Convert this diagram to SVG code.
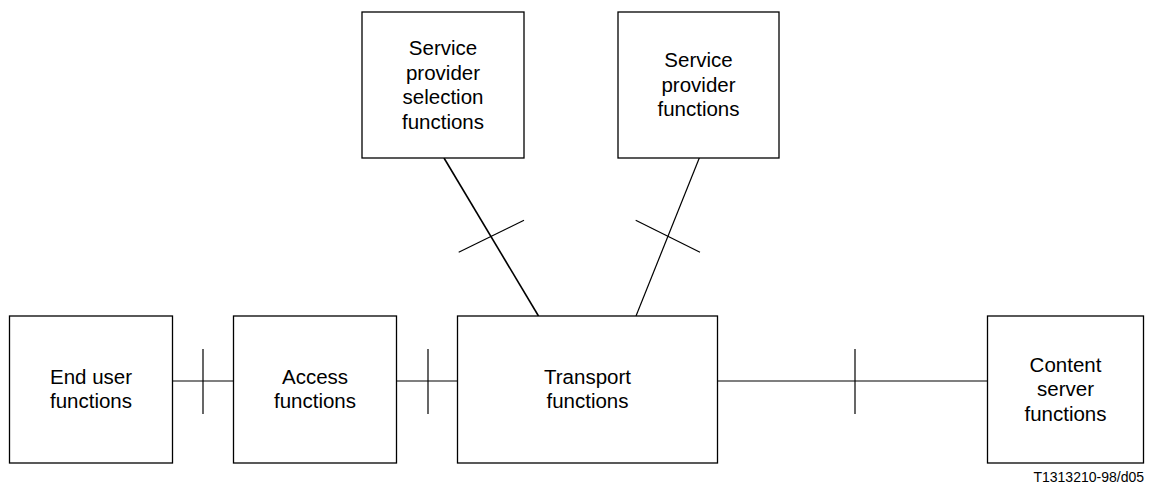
<svg xmlns="http://www.w3.org/2000/svg" width="1155" height="486" viewBox="0 0 1155 486">
<style>
.box{fill:#fff;stroke:#000;stroke-width:1.3}
.ln{stroke:#000;stroke-width:1.2;fill:none}
.t{font-family:"Liberation Sans",Arial,sans-serif;font-size:20.5px;fill:#000;text-anchor:middle}
.f{font-family:"Liberation Sans",Arial,sans-serif;font-size:14px;fill:#000;text-anchor:end}
</style>
<rect width="1155" height="486" fill="#fff"/>
<g id="connectors">
<line class="ln" x1="172" y1="381" x2="233" y2="381"/>
<line class="ln" x1="203" y1="349" x2="203" y2="414"/>
<line class="ln" x1="397" y1="381" x2="457" y2="381"/>
<line class="ln" x1="428" y1="349" x2="428" y2="414"/>
<line class="ln" x1="717" y1="381" x2="987" y2="381"/>
<line class="ln" x1="855" y1="349" x2="855" y2="414"/>
<line class="ln" x1="444" y1="158" x2="538.5" y2="316" style="stroke-width:1.6"/>
<line class="ln" x1="458.7" y1="252.3" x2="524" y2="220.3"/>
<line class="ln" x1="699.3" y1="158" x2="636" y2="316"/>
<line class="ln" x1="635.7" y1="220.3" x2="700" y2="252.3"/>
</g>
<g id="sps">
<rect class="box" x="362" y="12" width="162" height="146"/>
<text class="t" x="443" y="54.8">Service</text>
<text class="t" x="443" y="79.5">provider</text>
<text class="t" x="443" y="104">selection</text>
<text class="t" x="443" y="128.5">functions</text>
</g>
<g id="sp">
<rect class="box" x="618" y="12" width="161" height="146"/>
<text class="t" x="698.5" y="67">Service</text>
<text class="t" x="698.5" y="91.5">provider</text>
<text class="t" x="698.5" y="116">functions</text>
</g>
<g id="enduser">
<rect class="box" x="9.5" y="316" width="163" height="147"/>
<text class="t" x="91" y="383.5">End user</text>
<text class="t" x="91" y="408.3">functions</text>
</g>
<g id="access">
<rect class="box" x="233.5" y="316" width="163" height="147"/>
<text class="t" x="315" y="383.5">Access</text>
<text class="t" x="315" y="408.3">functions</text>
</g>
<g id="transport">
<rect class="box" x="457.5" y="316" width="260" height="147"/>
<text class="t" x="587.5" y="383.5">Transport</text>
<text class="t" x="587.5" y="408.3">functions</text>
</g>
<g id="content">
<rect class="box" x="987.5" y="316" width="156" height="147"/>
<text class="t" x="1065.5" y="371.5">Content</text>
<text class="t" x="1065.5" y="396.3">server</text>
<text class="t" x="1065.5" y="420.8">functions</text>
</g>
<text class="f" x="1144" y="482">T1313210-98/d05</text>
</svg>
